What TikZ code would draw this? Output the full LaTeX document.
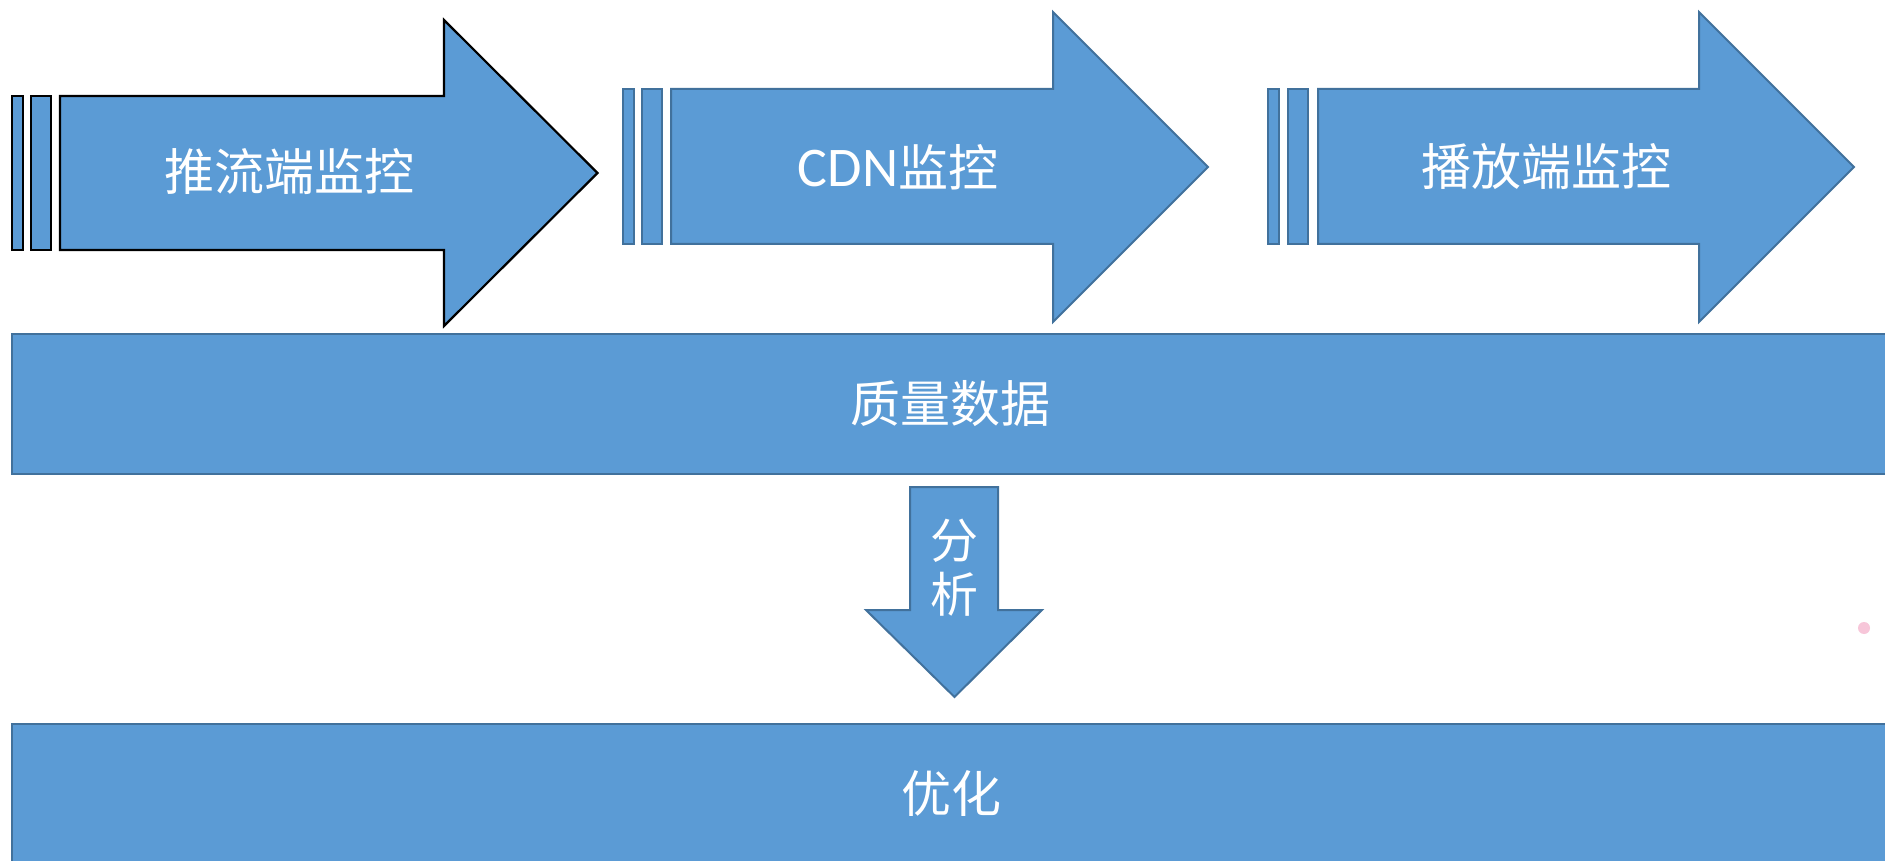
\documentclass[tikz,border=0pt]{standalone}
\usepackage{fontspec}
\newfontfamily\cjk{Noto Sans CJK SC}
\newfontfamily\carl{Carlito}
\definecolor{boxfill}{HTML}{5B9BD5}
\definecolor{boxline}{HTML}{41719C}
\definecolor{dotpink}{HTML}{F7C6D9}
\tikzset{
  shapeblue/.style={fill=boxfill, draw=boxline, line width=2pt, line join=miter},
  shapeblack/.style={fill=boxfill, draw=black, line width=2.2pt, line join=miter},
  label/.style={text=white, font=\cjk\fontsize{50}{54}\selectfont, inner sep=0pt, anchor=center}
}
\begin{document}
\begin{tikzpicture}[x=1pt,y=-1pt]
\useasboundingbox (0,0) rectangle (1885,861);
\fill[white] (0,0) rectangle (1885,861);
\clip (0,0) rectangle (1885,861);
% faint pink dot
\fill[dotpink] (1864,628) circle (6);
% arrow 1 (black outline)
\draw[shapeblack] (12,96) rectangle (23,250);
\draw[shapeblack] (31,96) rectangle (51,250);
\draw[shapeblack] (60,96) -- (444,96) -- (444,20) -- (597.5,173) -- (444,326) -- (444,250) -- (60,250) -- cycle;
\node[label] (push) at (289,172) {推流端监控};
% arrow 2
\draw[shapeblue] (623,89) rectangle (634,244);
\draw[shapeblue] (642,89) rectangle (662,244);
\draw[shapeblue] (671,89) -- (1053,89) -- (1053,12) -- (1208,167) -- (1053,322) -- (1053,244) -- (671,244) -- cycle;
\node[label] (cdn) at (898,167) {{\carl\fontsize{56}{60}\selectfont CDN}监控};
% arrow 3
\draw[shapeblue] (1268,89) rectangle (1279,244);
\draw[shapeblue] (1288,89) rectangle (1308,244);
\draw[shapeblue] (1318,89) -- (1699,89) -- (1699,12) -- (1854,167) -- (1699,322) -- (1699,244) -- (1318,244) -- cycle;
\node[label] (play) at (1546,167) {播放端监控};
% quality data band
\draw[shapeblue] (12,334) rectangle (1900,474);
\node[label] (quality) at (950,404) {质量数据};
% down arrow
\draw[shapeblue] (910,487) -- (998,487) -- (998,610) -- (1042,610) -- (954.5,697) -- (866,610) -- (910,610) -- cycle;
\node[label, font=\cjk\fontsize{48}{54}\selectfont, align=center] (analyse) at (954,568) {分\\析};
% optimise band
\draw[shapeblue] (12,724) rectangle (1900,880);
\node[label] (optim) at (951,793) {优化};
\end{tikzpicture}
\end{document}
